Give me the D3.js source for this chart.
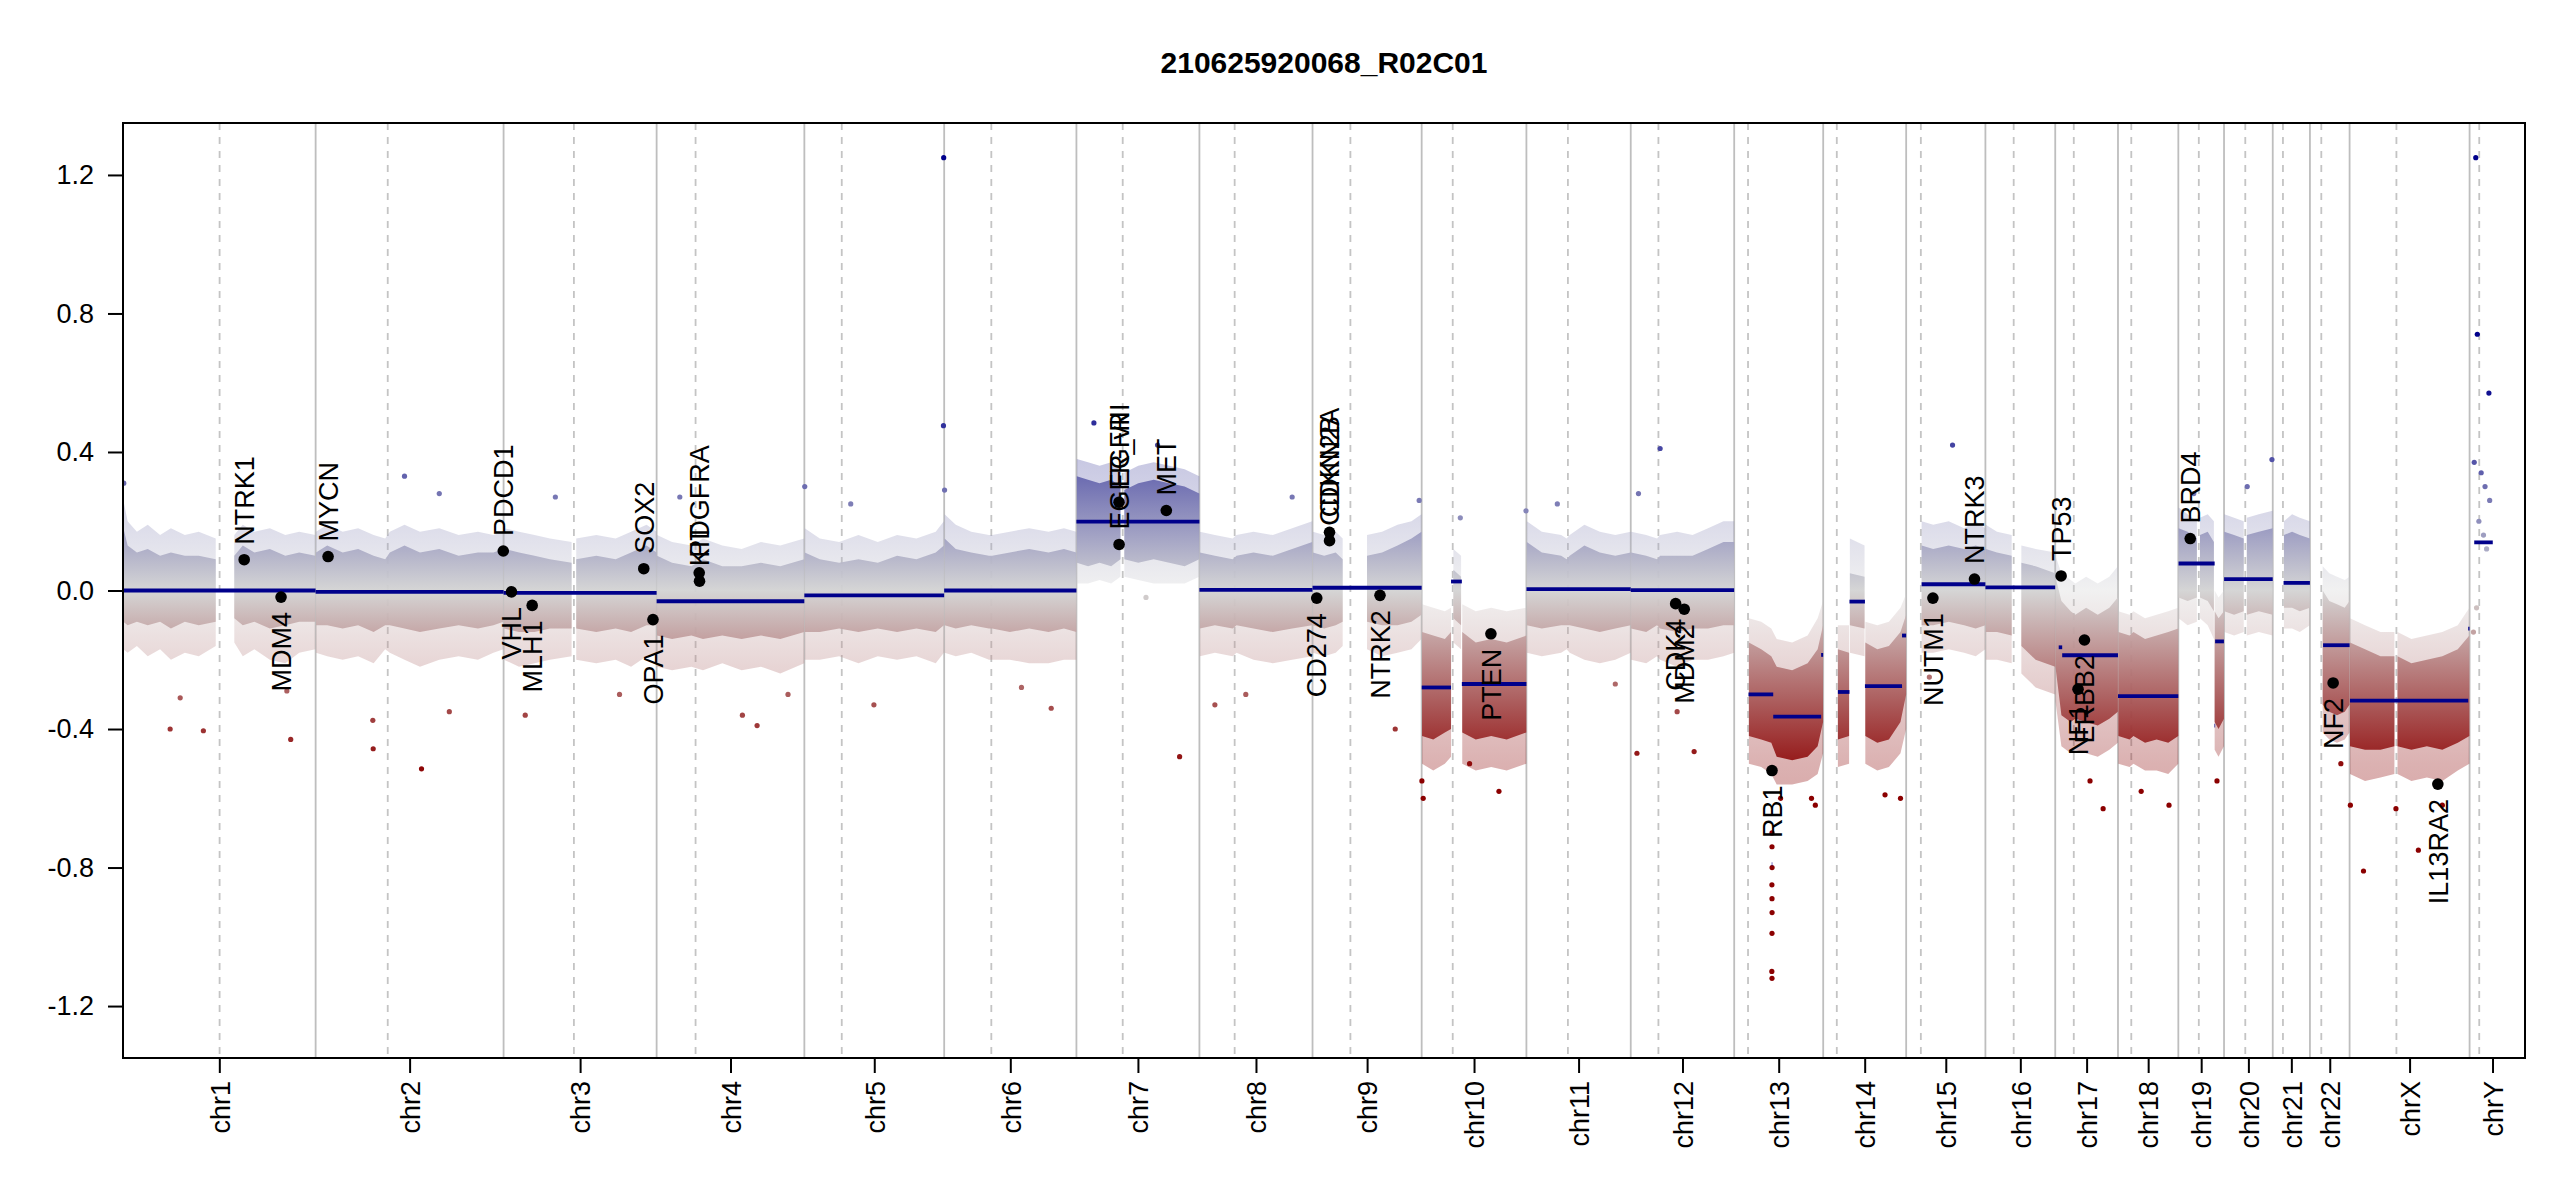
<!DOCTYPE html>
<html>
<head>
<meta charset="utf-8">
<script src="https://cdn.jsdelivr.net/npm/d3@7"></script>
<style>
  body { margin: 0; background: #fff; }
  text { font-family: "Liberation Sans", Arial, sans-serif; }
</style>
</head>
<body>
<svg id="chart" width="2550" height="1200"></svg>
<script>
// genome plot of binned log2 ratios (hg19 layout), one sample

const sampleName = "210625920068_R02C01";

const chromNames = ["chr1", "chr2", "chr3", "chr4", "chr5", "chr6", "chr7", "chr8", "chr9", "chr10", "chr11", "chr12",
    "chr13", "chr14", "chr15", "chr16", "chr17", "chr18", "chr19", "chr20", "chr21", "chr22", "chrX", "chrY"];
// chromosome lengths and centromere positions, Mb
const chromLength = [249.25, 243.2, 198.02, 191.15, 180.92, 171.12, 159.14, 146.36, 141.21, 135.53, 135.01, 133.85,
    115.17, 107.35, 102.53, 90.35, 81.2, 78.08, 59.13, 63.03, 48.13, 51.3, 155.27, 59.37];
const centromere = [125.0, 93.3, 91.0, 50.4, 48.4, 61.0, 59.9, 45.6, 49.0, 40.2, 53.7, 35.8,
    17.9, 17.6, 19.0, 36.6, 24.0, 17.2, 26.5, 27.5, 13.2, 14.7, 60.6, 12.5];
const genomeAxisEnd = 3108;

const yTicks = [1.2, 0.8, 0.4, 0.0, -0.4, -0.8, -1.2];

// segments: chromosome, start, end, mean
const segments = [
    ["chr1", 0.5, 249.2, 0.0], ["chr2", 0.0, 243.2, -0.004], ["chr3", 0.0, 198.0, -0.007],
    ["chr4", 0.0, 191.1, -0.031], ["chr5", 0.0, 180.9, -0.014], ["chr6", 0.0, 171.1, 0.0],
    ["chr7", 0.0, 159.1, 0.199], ["chr8", 0.0, 146.3, 0.002], ["chr9", 0.0, 141.2, 0.008],
    ["chr10", 0.1, 38.0, -0.28], ["chr10", 38.0, 52.0, 0.026], ["chr10", 52.0, 135.5, -0.27],
    ["chr11", 0.1, 135.0, 0.004], ["chr12", 0.0, 133.8, 0.001],
    ["chr13", 18.5, 50.5, -0.30], ["chr13", 50.5, 112.5, -0.364], ["chr13", 112.5, 115.1, -0.186],
    ["chr13", 48.6, 49.3, -0.79],
    ["chr14", 19.0, 34.0, -0.293], ["chr14", 34.0, 54.0, -0.032], ["chr14", 54.0, 102.0, -0.276],
    ["chr14", 102.0, 107.3, -0.13],
    ["chr15", 20.0, 102.5, 0.018], ["chr16", 0.0, 90.3, 0.009],
    ["chr17", 4.5, 9.0, -0.164], ["chr17", 9.0, 81.2, -0.187], ["chr18", 0.0, 78.0, -0.305],
    ["chr19", 0.3, 47.0, 0.078], ["chr19", 46.8, 47.6, -0.39], ["chr19", 47.6, 59.0, -0.147],
    ["chr20", 0.1, 63.0, 0.033], ["chr21", 14.0, 48.1, 0.022], ["chr22", 17.0, 51.3, -0.158],
    ["chrX", 0.5, 153.5, -0.318], ["chrX", 153.5, 155.2, -0.11], ["chrY", 6.0, 30.0, 0.139]
];

// detail genes: name, chromosome, position (Mb), ratio
const genes = [
    ["NTRK1", "chr1", 156.8, 0.089], ["MDM4", "chr1", 204.5, -0.019], ["MYCN", "chr2", 16.1, 0.098],
    ["PDCD1", "chr2", 242.8, 0.114], ["VHL", "chr3", 10.2, -0.004], ["MLH1", "chr3", 37.0, -0.043],
    ["SOX2", "chr3", 181.4, 0.063], ["OPA1", "chr3", 193.3, -0.084], ["PDGFRA", "chr4", 55.1, 0.051],
    ["KIT", "chr4", 55.5, 0.027], ["EGFR", "chr7", 55.1, 0.255], ["EGFR_vIII", "chr7", 55.2, 0.133],
    ["MET", "chr7", 116.3, 0.231], ["CDKN2A", "chr9", 21.97, 0.168], ["CDKN2B", "chr9", 22.0, 0.144],
    ["CD274", "chr9", 5.45, -0.022], ["NTRK2", "chr9", 87.3, -0.014], ["PTEN", "chr10", 89.6, -0.125],
    ["CDK4", "chr12", 58.1, -0.038], ["MDM2", "chr12", 69.2, -0.054], ["RB1", "chr13", 48.9, -0.52],
    ["NUTM1", "chr15", 34.6, -0.022], ["NTRK3", "chr15", 88.4, 0.033], ["TP53", "chr17", 7.6, 0.042],
    ["NF1", "chr17", 29.5, -0.285], ["ERBB2", "chr17", 37.8, -0.143], ["BRD4", "chr19", 15.4, 0.15],
    ["NF2", "chr22", 30.0, -0.267], ["IL13RA2", "chrX", 114.2, -0.559]
];

// bin cloud envelope per chromosome
// each piece: rows of [pos Mb, outer high, core high, core low, outer low]
const cloudChr1 = [
    [[0.5, 0.26, 0.18, -0.09, -0.17], [6, 0.2, 0.13, -0.1, -0.18], [18, 0.17, 0.11, -0.09, -0.16], [32, 0.19, 0.12, -0.1, -0.19],
     [48, 0.16, 0.1, -0.09, -0.17], [62, 0.18, 0.11, -0.11, -0.2], [80, 0.16, 0.1, -0.09, -0.18], [98, 0.17, 0.1, -0.1, -0.19],
     [120, 0.15, 0.09, -0.09, -0.16]],
    [[144, 0.16, 0.1, -0.08, -0.15], [155, 0.19, 0.13, -0.1, -0.19], [170, 0.17, 0.11, -0.09, -0.17], [190, 0.18, 0.12, -0.11, -0.2],
     [210, 0.16, 0.1, -0.1, -0.21], [228, 0.17, 0.11, -0.09, -0.18], [249, 0.16, 0.1, -0.09, -0.17]]
];
const cloudChr2 = [
    [[0.5, 0.17, 0.11, -0.1, -0.18], [15, 0.19, 0.13, -0.1, -0.19], [35, 0.17, 0.11, -0.11, -0.2], [55, 0.18, 0.12, -0.1, -0.19],
     [75, 0.16, 0.1, -0.12, -0.21], [90, 0.15, 0.09, -0.1, -0.17], [96, 0.17, 0.11, -0.1, -0.18], [115, 0.19, 0.13, -0.11, -0.2],
     [135, 0.17, 0.11, -0.12, -0.22], [160, 0.18, 0.12, -0.11, -0.2], [185, 0.16, 0.1, -0.1, -0.19], [210, 0.17, 0.11, -0.11, -0.2],
     [230, 0.16, 0.11, -0.1, -0.18], [243, 0.17, 0.12, -0.09, -0.17]]
];
const cloudChr3 = [
    [[0.5, 0.18, 0.12, -0.11, -0.2], [20, 0.17, 0.11, -0.12, -0.22], [40, 0.16, 0.1, -0.12, -0.21], [60, 0.15, 0.09, -0.11, -0.2],
     [88, 0.14, 0.08, -0.11, -0.19]],
    [[94, 0.15, 0.09, -0.11, -0.2], [120, 0.16, 0.1, -0.12, -0.21], [145, 0.15, 0.09, -0.11, -0.2], [165, 0.17, 0.11, -0.12, -0.22],
     [185, 0.19, 0.13, -0.1, -0.19], [198, 0.17, 0.11, -0.1, -0.18]]
];
const cloudChr4 = [
    [[0.5, 0.16, 0.1, -0.13, -0.22], [20, 0.14, 0.08, -0.14, -0.23], [45, 0.13, 0.07, -0.13, -0.22], [60, 0.15, 0.09, -0.14, -0.23],
     [85, 0.13, 0.07, -0.13, -0.21], [110, 0.12, 0.07, -0.14, -0.23], [135, 0.14, 0.08, -0.13, -0.22], [160, 0.13, 0.07, -0.14, -0.24],
     [191, 0.15, 0.09, -0.12, -0.21]]
];
const cloudChr5 = [
    [[0.5, 0.18, 0.11, -0.12, -0.2], [20, 0.15, 0.09, -0.12, -0.2], [45, 0.14, 0.08, -0.11, -0.19], [70, 0.16, 0.09, -0.12, -0.21],
     [95, 0.14, 0.08, -0.11, -0.19], [120, 0.16, 0.1, -0.12, -0.2], [145, 0.15, 0.09, -0.11, -0.19], [170, 0.17, 0.11, -0.12, -0.21],
     [180.5, 0.2, 0.13, -0.1, -0.18]]
];
const cloudChr6 = [
    [[0.5, 0.22, 0.15, -0.1, -0.18], [15, 0.19, 0.12, -0.11, -0.19], [35, 0.17, 0.11, -0.1, -0.18], [58, 0.16, 0.1, -0.11, -0.2],
     [62, 0.16, 0.1, -0.11, -0.2], [85, 0.17, 0.11, -0.12, -0.2], [110, 0.18, 0.12, -0.11, -0.21], [135, 0.17, 0.11, -0.12, -0.21],
     [155, 0.18, 0.12, -0.11, -0.2], [171, 0.17, 0.11, -0.12, -0.2]]
];
const cloudChr7 = [
    [[0.5, 0.38, 0.33, 0.08, 0.02], [15, 0.37, 0.32, 0.07, 0.02], [30, 0.36, 0.31, 0.08, 0.03], [45, 0.37, 0.32, 0.07, 0.02],
     [57, 0.35, 0.3, 0.09, 0.04]],
    [[62, 0.34, 0.29, 0.09, 0.04], [80, 0.36, 0.31, 0.08, 0.03], [100, 0.37, 0.32, 0.09, 0.02], [120, 0.36, 0.31, 0.08, 0.02],
     [140, 0.35, 0.3, 0.07, 0.02], [159, 0.33, 0.28, 0.09, 0.04]]
];
const cloudChr8 = [
    [[0.5, 0.17, 0.11, -0.11, -0.19], [20, 0.16, 0.1, -0.1, -0.18], [43, 0.15, 0.09, -0.11, -0.19], [48, 0.16, 0.1, -0.1, -0.18],
     [70, 0.17, 0.11, -0.11, -0.2], [95, 0.16, 0.1, -0.12, -0.21], [120, 0.18, 0.12, -0.11, -0.2], [146, 0.2, 0.14, -0.1, -0.19]]
];
const cloudChr9 = [
    [[0.5, 0.17, 0.11, -0.1, -0.18], [15, 0.16, 0.1, -0.11, -0.19], [30, 0.17, 0.11, -0.1, -0.18], [39, 0.15, 0.09, -0.09, -0.16]],
    [[70.5, 0.16, 0.1, -0.09, -0.17], [90, 0.17, 0.11, -0.1, -0.19], [110, 0.19, 0.13, -0.1, -0.18], [128, 0.2, 0.15, -0.09, -0.17],
     [141, 0.22, 0.17, -0.07, -0.14]]
];
const cloudChr10 = [
    [[0.5, -0.04, -0.12, -0.42, -0.5], [15, -0.05, -0.13, -0.43, -0.52], [30, -0.06, -0.14, -0.41, -0.5], [38, -0.05, -0.12, -0.4, -0.48]],
    [[41, 0.12, 0.06, -0.08, -0.15], [51, 0.1, 0.04, -0.1, -0.17]],
    [[52.5, -0.04, -0.12, -0.41, -0.5], [70, -0.06, -0.15, -0.43, -0.52], [90, -0.05, -0.14, -0.42, -0.51], [110, -0.06, -0.15, -0.43, -0.52],
     [135.4, -0.05, -0.13, -0.41, -0.5]]
];
const cloudChr11 = [
    [[0.5, 0.2, 0.14, -0.1, -0.18], [20, 0.17, 0.11, -0.11, -0.19], [45, 0.16, 0.1, -0.1, -0.18], [52, 0.15, 0.09, -0.1, -0.17],
     [56, 0.16, 0.1, -0.1, -0.18], [75, 0.19, 0.13, -0.11, -0.2], [95, 0.17, 0.11, -0.12, -0.21], [115, 0.16, 0.1, -0.11, -0.2],
     [135, 0.17, 0.11, -0.1, -0.18]]
];
const cloudChr12 = [
    [[0.5, 0.17, 0.11, -0.11, -0.2], [20, 0.16, 0.1, -0.12, -0.21], [34, 0.15, 0.09, -0.1, -0.19], [38, 0.16, 0.1, -0.11, -0.2],
     [60, 0.17, 0.1, -0.12, -0.22], [80, 0.16, 0.1, -0.11, -0.2], [100, 0.18, 0.12, -0.11, -0.2], [120, 0.2, 0.14, -0.1, -0.19],
     [133.8, 0.2, 0.14, -0.1, -0.18]]
];
const cloudChr13 = [
    [[19, -0.08, -0.15, -0.42, -0.5], [35, -0.09, -0.17, -0.43, -0.51], [48, -0.11, -0.19, -0.44, -0.53], [55, -0.14, -0.22, -0.48, -0.56],
     [75, -0.15, -0.23, -0.49, -0.56], [95, -0.13, -0.21, -0.48, -0.55], [108, -0.08, -0.17, -0.45, -0.53], [115, -0.03, -0.1, -0.38, -0.47]]
];
const cloudChr14 = [
    [[19, -0.1, -0.17, -0.43, -0.51], [33.5, -0.1, -0.18, -0.42, -0.5]],
    [[34.5, 0.15, 0.05, -0.1, -0.18], [53.5, 0.13, 0.04, -0.11, -0.19]],
    [[54.5, -0.09, -0.15, -0.42, -0.5], [70, -0.1, -0.17, -0.44, -0.52], [85, -0.09, -0.16, -0.43, -0.51], [100, -0.05, -0.12, -0.38, -0.47],
     [107.3, -0.01, -0.07, -0.3, -0.4]]
];
const cloudChr15 = [
    [[20, 0.2, 0.13, -0.1, -0.18], [35, 0.19, 0.12, -0.1, -0.18], [55, 0.2, 0.13, -0.09, -0.17], [75, 0.18, 0.12, -0.1, -0.18],
     [90, 0.2, 0.13, -0.11, -0.19], [102.4, 0.18, 0.12, -0.1, -0.17]]
];
const cloudChr16 = [
    [[0.5, 0.19, 0.12, -0.12, -0.2], [15, 0.17, 0.11, -0.12, -0.2], [34, 0.16, 0.1, -0.13, -0.21]],
    [[46.5, 0.13, 0.08, -0.16, -0.24], [65, 0.12, 0.07, -0.2, -0.28], [90.3, 0.11, 0.05, -0.22, -0.3]]
];
const cloudChr17 = [
    [[0.3, 0.1, 0.04, -0.22, -0.32], [8, 0.05, -0.03, -0.36, -0.45], [20, 0.03, -0.06, -0.38, -0.47], [26, 0.02, -0.07, -0.37, -0.46],
     [40, 0.04, -0.05, -0.38, -0.47], [55, 0.02, -0.07, -0.39, -0.48], [70, 0.04, -0.05, -0.37, -0.46], [81, 0.07, -0.02, -0.35, -0.44]]
];
const cloudChr18 = [
    [[0.5, -0.06, -0.12, -0.42, -0.5], [15, -0.07, -0.13, -0.43, -0.51], [20, -0.06, -0.12, -0.42, -0.5], [35, -0.08, -0.14, -0.44, -0.52],
     [50, -0.07, -0.13, -0.43, -0.52], [65, -0.06, -0.12, -0.44, -0.53], [78, -0.05, -0.11, -0.42, -0.5]]
];
const cloudChr19 = [
    [[0.3, 0.24, 0.18, -0.02, -0.08], [12, 0.22, 0.17, -0.03, -0.1], [24, 0.2, 0.15, -0.02, -0.09]],
    [[28, 0.21, 0.16, -0.02, -0.08], [38, 0.22, 0.17, -0.03, -0.1], [46, 0.2, 0.14, -0.06, -0.14]],
    [[47, 0.0, -0.06, -0.38, -0.46], [52, -0.02, -0.08, -0.4, -0.48], [59, 0.0, -0.06, -0.37, -0.45]]
];
const cloudChr20 = [
    [[0.3, 0.22, 0.17, -0.06, -0.12], [13, 0.21, 0.16, -0.07, -0.13], [25.5, 0.2, 0.15, -0.06, -0.12]],
    [[29.5, 0.21, 0.16, -0.07, -0.13], [45, 0.22, 0.17, -0.06, -0.12], [62.9, 0.23, 0.18, -0.07, -0.13]]
];
const cloudChr21 = [
    [[14.5, 0.2, 0.16, -0.05, -0.11], [25, 0.22, 0.17, -0.05, -0.11], [35, 0.21, 0.16, -0.06, -0.12], [48, 0.2, 0.15, -0.05, -0.1]]
];
const cloudChr22 = [
    [[16.5, 0.07, 0.0, -0.33, -0.41], [25, 0.05, -0.03, -0.35, -0.43], [35, 0.04, -0.04, -0.36, -0.44], [45, 0.03, -0.05, -0.35, -0.43],
     [51.2, 0.04, -0.03, -0.33, -0.41]]
];
const cloudChrX = [
    [[0.5, -0.08, -0.15, -0.45, -0.53], [20, -0.1, -0.17, -0.46, -0.55], [40, -0.12, -0.19, -0.46, -0.54], [58, -0.12, -0.19, -0.45, -0.53]],
    [[62, -0.12, -0.19, -0.45, -0.53], [80, -0.14, -0.21, -0.46, -0.55], [100, -0.13, -0.2, -0.45, -0.54], [120, -0.12, -0.19, -0.46, -0.55],
     [140, -0.1, -0.17, -0.44, -0.52], [155, -0.05, -0.13, -0.42, -0.5]]
];

// single bins lying outside the cloud: chromosome, position, ratio
const outliers = [
    ["chr1", 1, 0.31], ["chr1", 61, -0.4], ["chr1", 74, -0.31], ["chr1", 104, -0.405], ["chr1", 212, -0.29], ["chr1", 217, -0.43],
    ["chr2", 74, -0.375], ["chr2", 74.5, -0.457], ["chr2", 115, 0.33], ["chr2", 137, -0.515], ["chr2", 160, 0.28], ["chr2", 173, -0.35],
    ["chr3", 28, -0.36], ["chr3", 67, 0.27], ["chr3", 150, -0.3],
    ["chr4", 30, 0.27], ["chr4", 111, -0.36], ["chr4", 130, -0.39], ["chr4", 170, -0.3],
    ["chr5", 0.5, 0.3], ["chr5", 60, 0.25], ["chr5", 90, -0.33], ["chr5", 180, 0.476], ["chr5", 180.3, 1.25],
    ["chr6", 0.5, 0.29], ["chr6", 100, -0.28], ["chr6", 138.5, -0.34],
    ["chr7", 22.6, 0.484], ["chr7", 90, -0.02], ["chr7", 105, 0.42], ["chr7", 133.5, -0.48],
    ["chr8", 20, -0.33], ["chr8", 60, -0.3], ["chr8", 120, 0.27],
    ["chr9", 107, -0.4], ["chr9", 138, 0.26],
    ["chr10", 0.3, -0.55], ["chr10", 2, -0.6], ["chr10", 50, 0.21], ["chr10", 62, -0.5], ["chr10", 100, -0.58], ["chr10", 135, 0.23],
    ["chr11", 40, 0.25], ["chr11", 115, -0.27],
    ["chr12", 8, -0.47], ["chr12", 10, 0.28], ["chr12", 38, 0.41], ["chr12", 60, -0.35], ["chr12", 82, -0.465],
    ["chr13", 48.9, -0.70], ["chr13", 48.9, -0.74], ["chr13", 49.0, -0.80], ["chr13", 48.8, -0.85], ["chr13", 48.9, -0.89],
    ["chr13", 49.0, -0.93], ["chr13", 48.9, -0.99], ["chr13", 48.7, -1.10], ["chr13", 48.9, -1.12],
    ["chr13", 60, -0.6], ["chr13", 100, -0.6], ["chr13", 105, -0.62],
    ["chr14", 80, -0.59], ["chr14", 100, -0.6],
    ["chr15", 30, -0.25], ["chr15", 60, 0.42],
    ["chr17", 45, -0.55], ["chr17", 62, -0.63],
    ["chr18", 30, -0.58], ["chr18", 66, -0.62],
    ["chr19", 20, 0.28], ["chr19", 50, -0.55],
    ["chr20", 30, 0.3], ["chr20", 62, 0.378],
    ["chr22", 40, -0.5],
    ["chrX", 1, -0.62], ["chrX", 18, -0.81], ["chrX", 60, -0.63], ["chrX", 89, -0.75], ["chrX", 120, -0.62],
    ["chrY", 5, -0.12], ["chrY", 6, 0.37], ["chrY", 8, 1.25], ["chrY", 9, -0.05], ["chrY", 10, 0.74], ["chrY", 12, 0.2],
    ["chrY", 15, 0.34], ["chrY", 18, 0.16], ["chrY", 20, 0.3], ["chrY", 22, 0.12], ["chrY", 25, 0.57], ["chrY", 26, 0.26]
];

const cloudByChrom = {
    chr1: cloudChr1, chr2: cloudChr2, chr3: cloudChr3, chr4: cloudChr4, chr5: cloudChr5, chr6: cloudChr6,
    chr7: cloudChr7, chr8: cloudChr8, chr9: cloudChr9, chr10: cloudChr10, chr11: cloudChr11, chr12: cloudChr12,
    chr13: cloudChr13, chr14: cloudChr14, chr15: cloudChr15, chr16: cloudChr16, chr17: cloudChr17, chr18: cloudChr18,
    chr19: cloudChr19, chr20: cloudChr20, chr21: cloudChr21, chr22: cloudChr22, chrX: cloudChrX
};

// ---- layout ----
var margin = { top: 123, right: 25, bottom: 142, left: 123 },
    width = 2550,
    height = 1200,
    plotW = width - margin.left - margin.right,
    plotH = height - margin.top - margin.bottom,
    fontSize = "27px";

var chromStart = {};
var cum = 0;
chromNames.forEach(function(c, i) { chromStart[c] = cum; cum += chromLength[i]; });
var chromCenter = chromNames.map(function(c, i) { return chromStart[c] + chromLength[i] / 2; });

var x = d3.scaleLinear().domain([0, genomeAxisEnd]).range([margin.left, margin.left + plotW]);
var y = d3.scaleLinear().domain([-1.35, 1.35]).range([margin.top + plotH, margin.top]);

// darkred - lightgrey - darkblue
var ratioColor = d3.scaleLinear()
    .domain([-0.53, 0, 0.62])
    .range(["#8b0000", "#d3d3d3", "#00008b"])
    .clamp(true);

function gx(c, pos) { return x(chromStart[c] + pos); }

var svg = d3.select("#chart");

// gradient following the ratio colour scale, in plot coordinates
var grad = svg.append("defs").append("linearGradient")
    .attr("id", "ratioGrad")
    .attr("gradientUnits", "userSpaceOnUse")
    .attr("x1", 0).attr("x2", 0)
    .attr("y1", y(0.7)).attr("y2", y(-0.7));
d3.range(0, 29).forEach(function(k) {
    var v = 0.7 - k * 0.05;
    grad.append("stop").attr("offset", (k / 28)).attr("stop-color", ratioColor(v));
});

svg.append("defs").append("clipPath").attr("id", "plotClip")
    .append("rect").attr("x", margin.left).attr("y", margin.top).attr("width", plotW).attr("height", plotH);

var plot = svg.append("g").attr("clip-path", "url(#plotClip)");

// chromosome borders and centromeres
plot.selectAll(".chrBorder")
    .data(chromNames.slice(1))
    .enter().append("line")
    .attr("class", "chrBorder")
    .attr("x1", function(c) { return gx(c, 0); })
    .attr("x2", function(c) { return gx(c, 0); })
    .attr("y1", margin.top).attr("y2", margin.top + plotH)
    .style("stroke", "#bebebe").style("stroke-width", 1.8);

plot.selectAll(".centro")
    .data(chromNames)
    .enter().append("line")
    .attr("class", "centro")
    .attr("x1", function(c, i) { return gx(c, centromere[i]); })
    .attr("x2", function(c, i) { return gx(c, centromere[i]); })
    .attr("y1", margin.top).attr("y2", margin.top + plotH)
    .style("stroke", "#c4c4c4").style("stroke-width", 1.8)
    .style("stroke-dasharray", "7,7");

// bin cloud
var pieces = [];
Object.keys(cloudByChrom).forEach(function(c) {
    cloudByChrom[c].forEach(function(p) { pieces.push({ chrom: c, rows: p }); });
});

var outerArea = d3.area()
    .x(function(d) { return d.px; })
    .y0(function(d) { return y(d.r[4]); })
    .y1(function(d) { return y(d.r[1]); });
var coreArea = d3.area()
    .x(function(d) { return d.px; })
    .y0(function(d) { return y(d.r[3]); })
    .y1(function(d) { return y(d.r[2]); });

function rowsOf(p) { return p.rows.map(function(r) { return { px: gx(p.chrom, r[0]), r: r }; }); }

plot.selectAll(".cloudOuter")
    .data(pieces)
    .enter().append("path")
    .attr("class", "cloudOuter")
    .attr("d", function(p) { return outerArea(rowsOf(p)); })
    .style("fill", "url(#ratioGrad)")
    .style("opacity", 0.32);

plot.selectAll(".cloudCore")
    .data(pieces)
    .enter().append("path")
    .attr("class", "cloudCore")
    .attr("d", function(p) { return coreArea(rowsOf(p)); })
    .style("fill", "url(#ratioGrad)")
    .style("opacity", 0.92);

plot.selectAll(".outlier")
    .data(outliers)
    .enter().append("circle")
    .attr("class", "outlier")
    .attr("cx", function(d) { return gx(d[0], d[1]); })
    .attr("cy", function(d) { return y(d[2]); })
    .attr("r", 2.6)
    .style("fill", function(d) { return ratioColor(d[2]); });

// segments
plot.selectAll(".seg")
    .data(segments)
    .enter().append("line")
    .attr("class", "seg")
    .attr("x1", function(d) { return gx(d[0], d[1]); })
    .attr("x2", function(d) { return gx(d[0], d[2]); })
    .attr("y1", function(d) { return y(d[3]); })
    .attr("y2", function(d) { return y(d[3]); })
    .style("stroke", "#00008b")
    .style("stroke-width", 3.8);

// detail genes
var gene = svg.append("g").selectAll(".gene")
    .data(genes)
    .enter().append("g")
    .attr("class", "gene")
    .attr("transform", function(d) { return "translate(" + gx(d[1], d[2]) + "," + y(d[3]) + ")"; });

gene.append("circle").attr("r", 5.8).style("fill", "#000");

gene.append("text")
    .attr("transform", "rotate(-90)")
    .attr("x", function(d) { return d[3] >= 0 ? 15 : -15; })
    .attr("dy", "0.36em")
    .attr("text-anchor", function(d) { return d[3] >= 0 ? "start" : "end"; })
    .style("font-size", fontSize)
    .style("fill", "#000")
    .text(function(d) { return d[0]; });

// frame
svg.append("rect")
    .attr("x", margin.left).attr("y", margin.top)
    .attr("width", plotW).attr("height", plotH)
    .style("fill", "none").style("stroke", "#000").style("stroke-width", 2);

// axes
var yAxis = d3.axisLeft(y)
    .tickValues(yTicks)
    .tickFormat(function(d) { return d.toFixed(1); })
    .tickSize(15)
    .tickPadding(14);

var gy = svg.append("g")
    .attr("transform", "translate(" + margin.left + ",0)")
    .call(yAxis);
gy.select(".domain").remove();
gy.selectAll("line").style("stroke-width", 2);
gy.selectAll("text").style("font-size", fontSize).style("font-family", "Liberation Sans, Arial, sans-serif");

var xAxis = d3.axisBottom(x)
    .tickValues(chromCenter)
    .tickFormat(function(d, i) { return chromNames[i]; })
    .tickSize(15);

var gxAxis = svg.append("g")
    .attr("transform", "translate(0," + (margin.top + plotH) + ")")
    .call(xAxis);
gxAxis.select(".domain").remove();
gxAxis.selectAll("line").style("stroke-width", 2);
gxAxis.selectAll("text")
    .attr("transform", "rotate(-90)")
    .attr("x", -23)
    .attr("y", 0)
    .attr("dy", "0.36em")
    .attr("text-anchor", "end")
    .style("font-size", fontSize)
    .style("font-family", "Liberation Sans, Arial, sans-serif");

// title
svg.append("text")
    .attr("x", margin.left + plotW / 2)
    .attr("y", 73)
    .attr("text-anchor", "middle")
    .style("font-size", "30px")
    .style("font-weight", "bold")
    .text(sampleName);
</script>
</body>
</html>
